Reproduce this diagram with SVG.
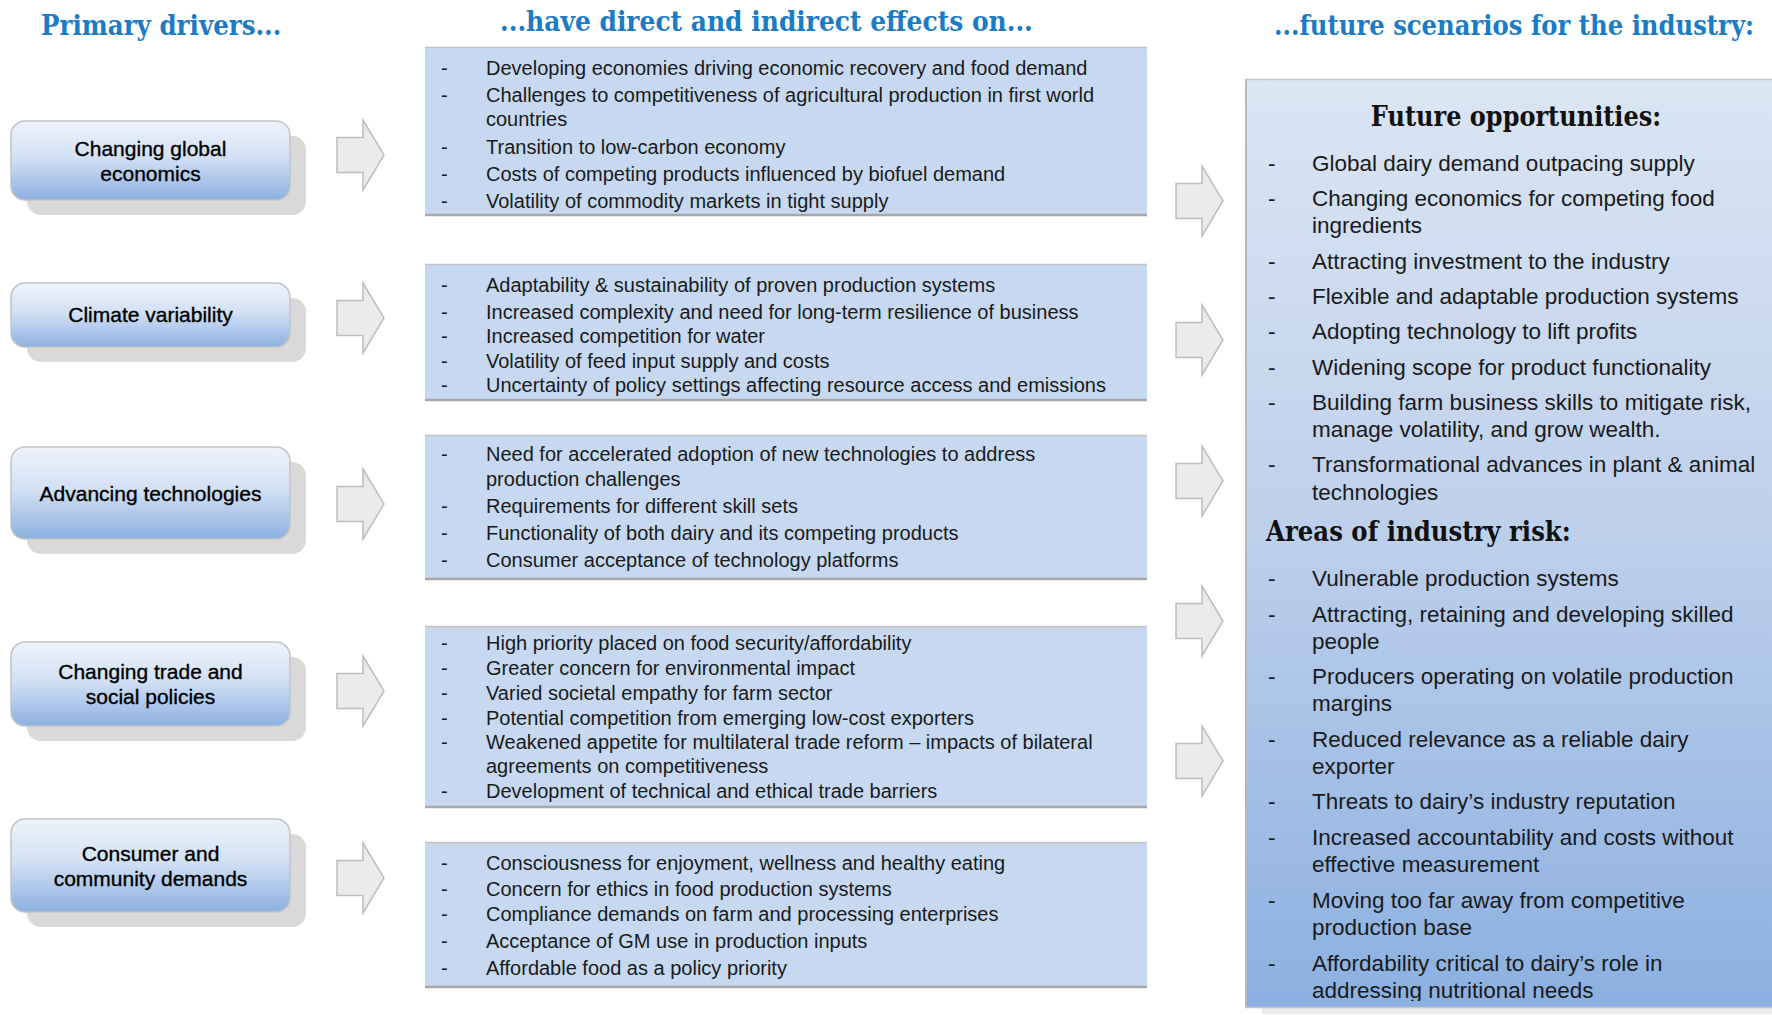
<svg xmlns="http://www.w3.org/2000/svg" xmlns:xlink="http://www.w3.org/1999/xlink" width="1772" height="1015" viewBox="0 0 1772 1015">
  <defs>
    <linearGradient id="nodeFill" x1="0" y1="0" x2="0" y2="1">
      <stop offset="0" stop-color="#eef3fb"/>
      <stop offset="0.45" stop-color="#d3e1f4"/>
      <stop offset="1" stop-color="#8cb1e1"/>
    </linearGradient>
    <linearGradient id="panelFill" x1="0" y1="0" x2="0" y2="1">
      <stop offset="0" stop-color="#dbe6f4"/>
      <stop offset="0.5" stop-color="#bccfeb"/>
      <stop offset="1" stop-color="#8bb0e1"/>
    </linearGradient>
    <path id="blockArrow" d="M-47,-17.5 H-21 V-35 L0,0 L-21,35 V17.5 H-47 Z"/>
    <clipPath id="panelClip">
      <rect x="1245" y="79" width="540" height="922"/>
    </clipPath>
  </defs>
  <style>
    .head { font-family: "DejaVu Serif", "Liberation Serif", serif; font-weight: bold; fill: #1b7bc4; font-size: 27px; }
    .subhead { font-family: "DejaVu Serif", "Liberation Serif", serif; font-weight: bold; fill: #111; font-size: 27px; }
    .shadow { fill: #d9d9d9; }
    .node { fill: url(#nodeFill); stroke: #c4c4c4; stroke-width: 1.5; }
    .nlabel { font-family: "Liberation Sans", Arial, sans-serif; font-size: 21px; fill: #000; stroke: #000; stroke-width: 0.35; text-anchor: middle; }
    .effect { fill: #c6d9f1; }
    .edgeTop { stroke: #c2c2c2; stroke-width: 1.5; }
    .edgeBot { stroke: #a8a8a8; stroke-width: 2.5; }
    .mtext { font-family: "Liberation Sans", Arial, sans-serif; font-size: 20px; fill: #1a1a1a; }
    .rtext { font-family: "Liberation Sans", Arial, sans-serif; font-size: 22.5px; fill: #1a1a1a; }
    .arrow { fill: #ebebeb; stroke: #bdbdbd; stroke-width: 1.5; stroke-linejoin: miter; }
  </style>

  <rect width="1772" height="1015" fill="#ffffff"/>

  <!-- Column headings (slab serif, horizontally condensed) -->
  <g id="headings">
    <text class="head" transform="translate(41,35) scale(0.88,1)" textLength="273" lengthAdjust="spacingAndGlyphs">Primary drivers...</text>
    <text class="head" transform="translate(500,31) scale(0.8,1)" textLength="666" lengthAdjust="spacingAndGlyphs">...have direct and indirect effects on...</text>
    <text class="head" transform="translate(1274,35) scale(0.8,1)" textLength="600" lengthAdjust="spacingAndGlyphs">...future scenarios for the industry:</text>
  </g>

  <!-- Primary drivers -->
  <g id="driver-economics">
    <rect class="shadow" x="27" y="136" width="279" height="79" rx="14"/>
    <rect class="node" x="11" y="121" width="279" height="79" rx="14"/>
    <text class="nlabel" x="150.5" y="155.5">Changing global</text>
    <text class="nlabel" x="150.5" y="180.5">economics</text>
  </g>
  <g id="driver-climate">
    <rect class="shadow" x="27" y="298" width="279" height="64" rx="14"/>
    <rect class="node" x="11" y="283" width="279" height="64" rx="14"/>
    <text class="nlabel" x="150.5" y="322">Climate variability</text>
  </g>
  <g id="driver-technology">
    <rect class="shadow" x="27" y="462" width="279" height="92" rx="14"/>
    <rect class="node" x="11" y="447" width="279" height="92" rx="14"/>
    <text class="nlabel" x="150.5" y="501">Advancing technologies</text>
  </g>
  <g id="driver-trade">
    <rect class="shadow" x="27" y="657" width="279" height="84" rx="14"/>
    <rect class="node" x="11" y="642" width="279" height="84" rx="14"/>
    <text class="nlabel" x="150.5" y="678.5">Changing trade and</text>
    <text class="nlabel" x="150.5" y="703.5">social policies</text>
  </g>
  <g id="driver-consumer">
    <rect class="shadow" x="27" y="834" width="279" height="93" rx="14"/>
    <rect class="node" x="11" y="819" width="279" height="93" rx="14"/>
    <text class="nlabel" x="150.5" y="860.5">Consumer and</text>
    <text class="nlabel" x="150.5" y="885.5">community demands</text>
  </g>

  <!-- Effects -->
  <g id="effects-economics">
    <rect class="effect" x="425" y="47" width="722" height="168"/>
    <line class="edgeTop" x1="425" y1="47.5" x2="1147" y2="47.5"/>
    <line class="edgeBot" x1="425" y1="215" x2="1147" y2="215"/>
    <g class="mtext">
      <text x="441" y="75">-</text><text x="486" y="75">Developing economies driving economic recovery and food demand</text>
      <text x="441" y="102">-</text><text x="486" y="102">Challenges to competitiveness of agricultural production in first world</text>
      <text x="486" y="126">countries</text>
      <text x="441" y="154">-</text><text x="486" y="154">Transition to low-carbon economy</text>
      <text x="441" y="181">-</text><text x="486" y="181">Costs of competing products influenced by biofuel demand</text>
      <text x="441" y="208">-</text><text x="486" y="208">Volatility of commodity markets in tight supply</text>
    </g>
  </g>
  <g id="effects-climate">
    <rect class="effect" x="425" y="264" width="722" height="136"/>
    <line class="edgeTop" x1="425" y1="264.5" x2="1147" y2="264.5"/>
    <line class="edgeBot" x1="425" y1="400" x2="1147" y2="400"/>
    <g class="mtext">
      <text x="441" y="292">-</text><text x="486" y="292">Adaptability &amp; sustainability of proven production systems</text>
      <text x="441" y="319">-</text><text x="486" y="319">Increased complexity and need for long-term resilience of business</text>
      <text x="441" y="343">-</text><text x="486" y="343">Increased competition for water</text>
      <text x="441" y="368">-</text><text x="486" y="368">Volatility of feed input supply and costs</text>
      <text x="441" y="392">-</text><text x="486" y="392">Uncertainty of policy settings affecting resource access and emissions</text>
    </g>
  </g>
  <g id="effects-technology">
    <rect class="effect" x="425" y="435" width="722" height="144"/>
    <line class="edgeTop" x1="425" y1="435.5" x2="1147" y2="435.5"/>
    <line class="edgeBot" x1="425" y1="579" x2="1147" y2="579"/>
    <g class="mtext">
      <text x="441" y="461">-</text><text x="486" y="461">Need for accelerated adoption of new technologies to address</text>
      <text x="486" y="486">production challenges</text>
      <text x="441" y="513">-</text><text x="486" y="513">Requirements for different skill sets</text>
      <text x="441" y="540">-</text><text x="486" y="540">Functionality of both dairy and its competing products</text>
      <text x="441" y="567">-</text><text x="486" y="567">Consumer acceptance of technology platforms</text>
    </g>
  </g>
  <g id="effects-trade">
    <rect class="effect" x="425" y="626" width="722" height="181"/>
    <line class="edgeTop" x1="425" y1="626.5" x2="1147" y2="626.5"/>
    <line class="edgeBot" x1="425" y1="807" x2="1147" y2="807"/>
    <g class="mtext">
      <text x="441" y="650">-</text><text x="486" y="650">High priority placed on food security/affordability</text>
      <text x="441" y="675">-</text><text x="486" y="675">Greater concern for environmental impact</text>
      <text x="441" y="700">-</text><text x="486" y="700">Varied societal empathy for farm sector</text>
      <text x="441" y="725">-</text><text x="486" y="725">Potential competition from emerging low-cost exporters</text>
      <text x="441" y="749">-</text><text x="486" y="749">Weakened appetite for multilateral trade reform – impacts of bilateral</text>
      <text x="486" y="773">agreements on competitiveness</text>
      <text x="441" y="798">-</text><text x="486" y="798">Development of technical and ethical trade barriers</text>
    </g>
  </g>
  <g id="effects-consumer">
    <rect class="effect" x="425" y="842" width="722" height="145"/>
    <line class="edgeTop" x1="425" y1="842.5" x2="1147" y2="842.5"/>
    <line class="edgeBot" x1="425" y1="987" x2="1147" y2="987"/>
    <g class="mtext">
      <text x="441" y="870">-</text><text x="486" y="870">Consciousness for enjoyment, wellness and healthy eating</text>
      <text x="441" y="896">-</text><text x="486" y="896">Concern for ethics in food production systems</text>
      <text x="441" y="921">-</text><text x="486" y="921">Compliance demands on farm and processing enterprises</text>
      <text x="441" y="948">-</text><text x="486" y="948">Acceptance of GM use in production inputs</text>
      <text x="441" y="975">-</text><text x="486" y="975">Affordable food as a policy priority</text>
    </g>
  </g>

  <!-- Future scenarios panel -->
  <g id="scenarios">
    <rect x="1262" y="1000" width="520" height="14" fill="#ebebeb"/>
    <rect x="1245" y="79" width="540" height="929" fill="url(#panelFill)"/>
    <line x1="1245" y1="79.5" x2="1772" y2="79.5" stroke="#c8c8c8" stroke-width="1.5"/>
    <line x1="1246" y1="79" x2="1246" y2="1008" stroke="#b8b8b8" stroke-width="2"/>
    <line x1="1245" y1="1007.5" x2="1772" y2="1007.5" stroke="#c4c4c4" stroke-width="1.5"/>
    <g clip-path="url(#panelClip)">
      <text class="subhead" transform="translate(1516,126) scale(0.82,1)" text-anchor="middle" textLength="354" lengthAdjust="spacingAndGlyphs">Future opportunities:</text>
      <g class="rtext">
        <text x="1268" y="171">-</text><text x="1312" y="171">Global dairy demand outpacing supply</text>
        <text x="1268" y="206">-</text><text x="1312" y="206">Changing economics for competing food</text>
        <text x="1312" y="233">ingredients</text>
        <text x="1268" y="269">-</text><text x="1312" y="269">Attracting investment to the industry</text>
        <text x="1268" y="304">-</text><text x="1312" y="304">Flexible and adaptable production systems</text>
        <text x="1268" y="339">-</text><text x="1312" y="339">Adopting technology to lift profits</text>
        <text x="1268" y="375">-</text><text x="1312" y="375">Widening scope for product functionality</text>
        <text x="1268" y="410">-</text><text x="1312" y="410">Building farm business skills to mitigate risk,</text>
        <text x="1312" y="437">manage volatility, and grow wealth.</text>
        <text x="1268" y="472">-</text><text x="1312" y="472">Transformational advances in plant &amp; animal</text>
        <text x="1312" y="500">technologies</text>
      </g>
      <text class="subhead" transform="translate(1266,541) scale(0.8,1)" textLength="381" lengthAdjust="spacingAndGlyphs">Areas of industry risk:</text>
      <g class="rtext">
        <text x="1268" y="586">-</text><text x="1312" y="586">Vulnerable production systems</text>
        <text x="1268" y="622">-</text><text x="1312" y="622">Attracting, retaining and developing skilled</text>
        <text x="1312" y="649">people</text>
        <text x="1268" y="684">-</text><text x="1312" y="684">Producers operating on volatile production</text>
        <text x="1312" y="711">margins</text>
        <text x="1268" y="747">-</text><text x="1312" y="747">Reduced relevance as a reliable dairy</text>
        <text x="1312" y="774">exporter</text>
        <text x="1268" y="809">-</text><text x="1312" y="809">Threats to dairy’s industry reputation</text>
        <text x="1268" y="845">-</text><text x="1312" y="845">Increased accountability and costs without</text>
        <text x="1312" y="872">effective measurement</text>
        <text x="1268" y="908">-</text><text x="1312" y="908">Moving too far away from competitive</text>
        <text x="1312" y="935">production base</text>
        <text x="1268" y="971">-</text><text x="1312" y="971">Affordability critical to dairy’s role in</text>
        <text x="1312" y="998">addressing nutritional needs</text>
      </g>
    </g>
  </g>

  <!-- Block arrows between columns -->
  <g id="connectors">
    <use xlink:href="#blockArrow" class="arrow" transform="translate(384,155)"/>
    <use xlink:href="#blockArrow" class="arrow" transform="translate(384,318)"/>
    <use xlink:href="#blockArrow" class="arrow" transform="translate(384,504)"/>
    <use xlink:href="#blockArrow" class="arrow" transform="translate(384,691)"/>
    <use xlink:href="#blockArrow" class="arrow" transform="translate(384,878)"/>
    <use xlink:href="#blockArrow" class="arrow" transform="translate(1223,201)"/>
    <use xlink:href="#blockArrow" class="arrow" transform="translate(1223,340)"/>
    <use xlink:href="#blockArrow" class="arrow" transform="translate(1223,481)"/>
    <use xlink:href="#blockArrow" class="arrow" transform="translate(1223,621)"/>
    <use xlink:href="#blockArrow" class="arrow" transform="translate(1223,761)"/>
  </g>
</svg>
